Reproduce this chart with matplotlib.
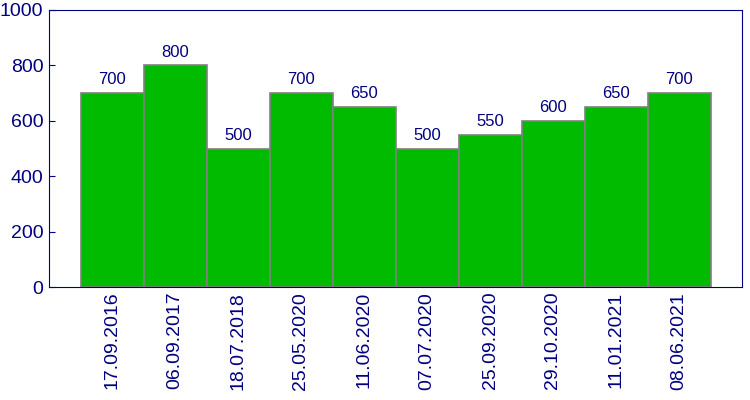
import matplotlib
matplotlib.use('Agg')
import matplotlib.pyplot as plt

dates = ['17.09.2016', '06.09.2017', '18.07.2018', '25.05.2020', '11.06.2020',
         '07.07.2020', '25.09.2020', '29.10.2020', '11.01.2021', '08.06.2021']
values = [700, 800, 500, 700, 650, 500, 550, 600, 650, 700]

NAVY = '#000080'
plt.rcParams['font.family'] = ['Liberation Sans', 'DejaVu Sans']

fig = plt.figure(figsize=(7.5, 4), dpi=100)
ax = fig.add_axes([49/750, 1-287/400, (742-49)/750, (287-10)/400])

x = range(len(values))
ax.bar(x, values, width=1.0, color='#00bb00', edgecolor='#808080', linewidth=1.2)
for i, v in enumerate(values):
    ax.text(i, v + 32, str(v), ha='center', va='baseline', fontsize=12, color=NAVY)

ax.set_xlim(-1, 10)
ax.set_ylim(0, 1000)
ax.set_yticks(range(0, 1001, 200))
ax.set_xticks(list(x))
ax.set_xticklabels(dates, rotation=90)
ax.tick_params(axis='y', direction='in', length=4, color=NAVY, labelcolor=NAVY, labelsize=14, pad=4)
ax.tick_params(axis='x', length=0, labelcolor=NAVY, labelsize=14, pad=3.5)
for s in ax.spines.values():
    s.set_color(NAVY)

fig.savefig('out.png', dpi=100)
